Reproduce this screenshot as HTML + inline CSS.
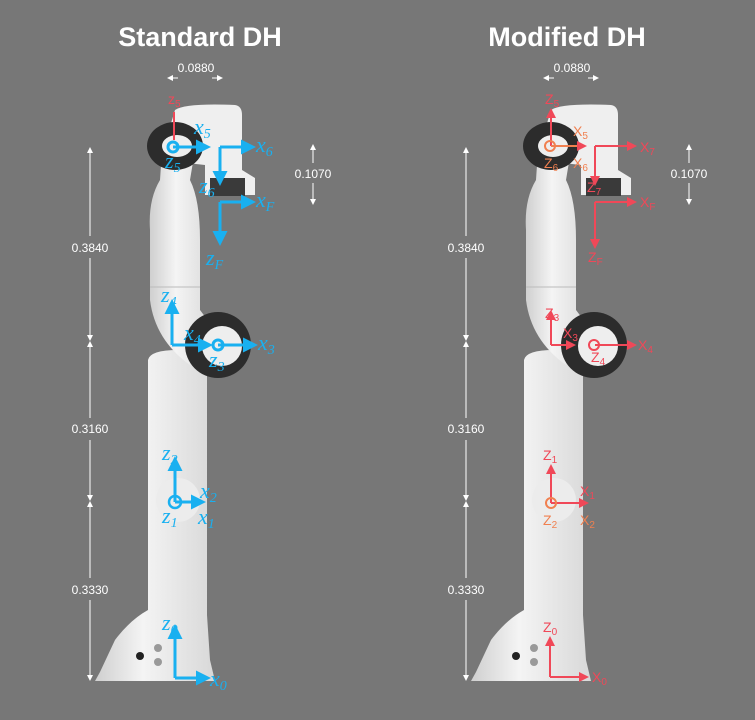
<!DOCTYPE html>
<html><head><meta charset="utf-8"><style>
html,body{margin:0;padding:0;background:#777;}
svg{display:block;font-family:"Liberation Sans",sans-serif;}
</style></head><body>
<svg width="755" height="720" viewBox="0 0 755 720">
<defs>
<linearGradient id="wg" x1="0" x2="1"><stop offset="0" stop-color="#cfcfcf"/><stop offset="0.4" stop-color="#f4f4f4"/><stop offset="1" stop-color="#d8d8d8"/></linearGradient>
<marker id="ab" markerWidth="5" markerHeight="5" refX="3" refY="2.5" orient="auto"><path d="M0,0L5,2.5L0,5z" fill="#19b0f0"/></marker>
<marker id="ar" markerWidth="5" markerHeight="5" refX="3" refY="2.5" orient="auto"><path d="M0,0L5,2.5L0,5z" fill="#f04858"/></marker>
<marker id="aw" markerWidth="6" markerHeight="6" refX="3" refY="3" orient="auto"><path d="M0,0L6,3L0,6z" fill="#fff"/></marker>
<g id="robot">
  <path d="M95,681 L215,681 L210,660 L207,615 L207,360 Q205,350 178,350 Q150,350 148,360 L148,610 Q130,620 115,640 L100,672 Z" fill="url(#wg)"/>
  <circle cx="178" cy="500" r="22" fill="#ececec"/>
  <path d="M150,230 Q148,200 160,180 L162,150 L195,150 L190,180 Q200,200 200,240 L200,310 L215,330 L190,365 Q155,340 150,300 Z" fill="url(#wg)"/>
  <line x1="150" y1="287" x2="200" y2="287" stroke="#bbb"/>
  <circle cx="218" cy="345" r="33" fill="#2c2c2c"/>
  <circle cx="222" cy="346" r="20" fill="#eee"/>
  <path d="M175,110 Q185,103 235,105 Q242,106 242,115 L242,170 L255,178 L255,195 L205,195 L205,165 L160,160 Z" fill="#efefef"/>
  <rect x="210" y="178" width="35" height="18" fill="#3a3a3a"/>
  <ellipse cx="175" cy="146" rx="28" ry="24" fill="#2c2c2c"/>
  <ellipse cx="177" cy="146" rx="15" ry="11" fill="#eee"/>
  <circle cx="140" cy="656" r="4" fill="#222"/><circle cx="158" cy="648" r="4" fill="#999"/><circle cx="158" cy="662" r="4" fill="#999"/>
</g>
</defs>
<use href="#robot"/>
<use href="#robot" x="376"/>

<text x="200" y="46" fill="#fff" font-size="27" font-weight="bold" text-anchor="middle">Standard DH</text>
<text x="567" y="46" fill="#fff" font-size="27" font-weight="bold" text-anchor="middle">Modified DH</text>

<g fill="#fff" font-size="12" text-anchor="middle" stroke="#fff">
<g id="dims">
  <line x1="90" y1="236" x2="90" y2="150" marker-end="url(#aw)"/>
  <line x1="90" y1="258" x2="90" y2="338" marker-end="url(#aw)"/>
  <line x1="90" y1="418" x2="90" y2="344" marker-end="url(#aw)"/>
  <line x1="90" y1="440" x2="90" y2="498" marker-end="url(#aw)"/>
  <line x1="90" y1="578" x2="90" y2="504" marker-end="url(#aw)"/>
  <line x1="90" y1="600" x2="90" y2="678" marker-end="url(#aw)"/>
  <line x1="313" y1="163" x2="313" y2="147" marker-end="url(#aw)"/>
  <line x1="313" y1="183" x2="313" y2="202" marker-end="url(#aw)"/>
  <line x1="178" y1="78" x2="170" y2="78" marker-end="url(#aw)"/>
  <line x1="212" y1="78" x2="220" y2="78" marker-end="url(#aw)"/>
  <text x="90" y="252" stroke="none">0.3840</text>
  <text x="90" y="433" stroke="none">0.3160</text>
  <text x="90" y="594" stroke="none">0.3330</text>
  <text x="313" y="178" stroke="none">0.1070</text>
  <text x="196" y="72" stroke="none">0.0880</text>
</g>
<use href="#dims" x="376"/>
</g>

<g stroke="#19b0f0" stroke-width="3" fill="none">
  <line x1="175" y1="678" x2="175" y2="630" marker-end="url(#ab)"/>
  <line x1="175" y1="678" x2="205" y2="678" marker-end="url(#ab)"/>
  <line x1="175" y1="502" x2="175" y2="462" marker-end="url(#ab)"/>
  <line x1="175" y1="502" x2="200" y2="502" marker-end="url(#ab)"/>
  <circle cx="175" cy="502" r="6" stroke-width="2.5"/>
  <line x1="172" y1="345" x2="172" y2="305" marker-end="url(#ab)"/>
  <line x1="172" y1="345" x2="207" y2="345" marker-end="url(#ab)"/>
  <line x1="218" y1="345" x2="252" y2="345" marker-end="url(#ab)"/>
  <circle cx="218" cy="345" r="5"/>
  <line x1="173" y1="147" x2="205" y2="147" marker-end="url(#ab)"/>
  <circle cx="173" cy="147" r="5"/>
  <line x1="220" y1="147" x2="250" y2="147" marker-end="url(#ab)"/>
  <line x1="220" y1="147" x2="220" y2="180" marker-end="url(#ab)"/>
  <line x1="220" y1="202" x2="250" y2="202" marker-end="url(#ab)"/>
  <line x1="220" y1="202" x2="220" y2="240" marker-end="url(#ab)"/>
  <line x1="174" y1="140" x2="174" y2="112" stroke="#f04858" stroke-width="2"/>
</g>
<g fill="#19b0f0" font-size="22" font-family="'Liberation Serif',serif" font-style="italic">
  <text x="162" y="630">z<tspan font-size="14" dy="4">0</tspan></text>
  <text x="210" y="686">x<tspan font-size="14" dy="4">0</tspan></text>
  <text x="162" y="460">z<tspan font-size="14" dy="4">2</tspan></text>
  <text x="200" y="498">x<tspan font-size="14" dy="4">2</tspan></text>
  <text x="162" y="523">z<tspan font-size="14" dy="4">1</tspan></text>
  <text x="198" y="524">x<tspan font-size="14" dy="4">1</tspan></text>
  <text x="161" y="302">z<tspan font-size="14" dy="4">4</tspan></text>
  <text x="184" y="340">x<tspan font-size="14" dy="4">4</tspan></text>
  <text x="258" y="350">x<tspan font-size="14" dy="4">3</tspan></text>
  <text x="209" y="367">z<tspan font-size="14" dy="4">3</tspan></text>
  <text x="194" y="134">x<tspan font-size="14" dy="4">5</tspan></text>
  <text x="165" y="168">z<tspan font-size="14" dy="4">5</tspan></text>
  <text x="256" y="152">x<tspan font-size="14" dy="4">6</tspan></text>
  <text x="199" y="193">z<tspan font-size="14" dy="4">6</tspan></text>
  <text x="256" y="207">x<tspan font-size="14" dy="4">F</tspan></text>
  <text x="206" y="265">z<tspan font-size="14" dy="4">F</tspan></text>
  <text x="168" y="104" fill="#f04858" font-size="14" font-style="normal" font-family="'Liberation Sans',sans-serif">z<tspan font-size="10" dy="3">5</tspan></text>
</g>

<g stroke="#f04858" stroke-width="2" fill="none">
  <line x1="550" y1="677" x2="550" y2="640" marker-end="url(#ar)"/>
  <line x1="550" y1="677" x2="585" y2="677" marker-end="url(#ar)"/>
  <line x1="551" y1="503" x2="551" y2="468" marker-end="url(#ar)"/>
  <line x1="551" y1="503" x2="585" y2="503" marker-end="url(#ar)"/>
  <circle cx="551" cy="503" r="5" stroke="#f08050"/>
  <line x1="551" y1="345" x2="572" y2="345" marker-end="url(#ar)"/>
  <line x1="551" y1="345" x2="551" y2="314" marker-end="url(#ar)"/>
  <line x1="595" y1="345" x2="633" y2="345" marker-end="url(#ar)"/>
  <circle cx="594" cy="345" r="5"/>
  <line x1="551" y1="146" x2="551" y2="112" marker-end="url(#ar)"/>
  <line x1="551" y1="146" x2="583" y2="146" marker-end="url(#ar)" stroke="#f08050"/>
  <circle cx="550" cy="146" r="5" stroke="#f08050"/>
  <line x1="595" y1="146" x2="633" y2="146" marker-end="url(#ar)"/>
  <line x1="595" y1="146" x2="595" y2="182" marker-end="url(#ar)"/>
  <line x1="595" y1="202" x2="633" y2="202" marker-end="url(#ar)"/>
  <line x1="595" y1="202" x2="595" y2="245" marker-end="url(#ar)"/>
</g>
<g fill="#f04858" font-size="14">
  <text x="543" y="632">Z<tspan font-size="10" dy="3">0</tspan></text>
  <text x="592" y="682">X<tspan font-size="10" dy="3">0</tspan></text>
  <text x="543" y="460">Z<tspan font-size="10" dy="3">1</tspan></text>
  <text x="580" y="496">X<tspan font-size="10" dy="3">1</tspan></text>
  <text x="543" y="525" fill="#f08050">Z<tspan font-size="10" dy="3">2</tspan></text>
  <text x="580" y="525" fill="#f08050">X<tspan font-size="10" dy="3">2</tspan></text>
  <text x="545" y="318">Z<tspan font-size="10" dy="3">3</tspan></text>
  <text x="563" y="338">X<tspan font-size="10" dy="3">3</tspan></text>
  <text x="638" y="350">X<tspan font-size="10" dy="3">4</tspan></text>
  <text x="591" y="362">Z<tspan font-size="10" dy="3">4</tspan></text>
  <text x="545" y="104">Z<tspan font-size="10" dy="3">5</tspan></text>
  <text x="573" y="136" fill="#f08050">X<tspan font-size="10" dy="3">5</tspan></text>
  <text x="544" y="168" fill="#f08050">Z<tspan font-size="10" dy="3">6</tspan></text>
  <text x="573" y="168" fill="#f08050">X<tspan font-size="10" dy="3">6</tspan></text>
  <text x="640" y="152">X<tspan font-size="10" dy="3">7</tspan></text>
  <text x="587" y="192">Z<tspan font-size="10" dy="3">7</tspan></text>
  <text x="640" y="207">X<tspan font-size="10" dy="3">F</tspan></text>
  <text x="588" y="262">Z<tspan font-size="10" dy="3">F</tspan></text>
</g>
</svg>
</body></html>
